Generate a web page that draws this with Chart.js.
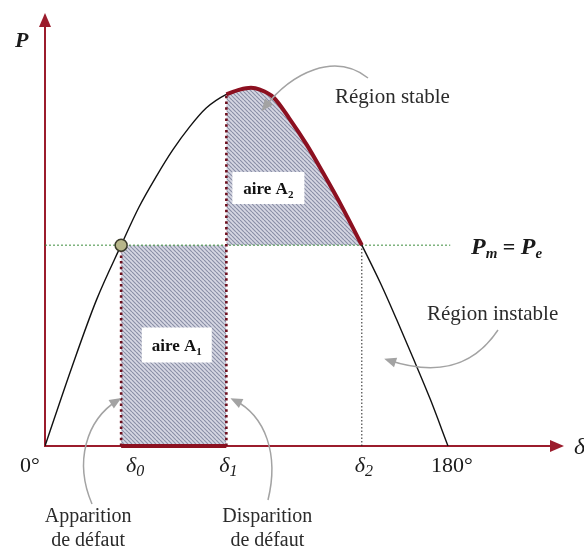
<!DOCTYPE html>
<html>
<head>
<meta charset="utf-8">
<script src="https://cdn.jsdelivr.net/npm/chart.js@4.4.0/dist/chart.umd.min.js"></script>
<style>
  html, body { margin: 0; padding: 0; background: #fff; }
  #wrap { width: 584px; height: 552px; }
</style>
</head>
<body>
<div id="wrap"><canvas id="chart" width="584" height="552"></canvas></div>
<script>
// P(delta) curve (angle in degrees, power normalised to Pmax)
const angles = [0, 12, 23, 34, 42, 50, 57, 64.5, 72, 81, 87, 92, 96, 102, 109, 117, 124, 132, 141.5, 150, 157, 164.5, 172, 180];
const power  = [0, 0.219, 0.406, 0.558, 0.664, 0.752, 0.822, 0.886, 0.939, 0.977, 0.990, 0.995, 0.990, 0.969, 0.911, 0.836, 0.761, 0.672, 0.558, 0.450, 0.352, 0.243, 0.131, 0];

// mechanical power and the three angles
const Pm = 0.558;
const delta0 = 34;
const delta1 = 81;
const delta2 = 141.5;

// x axis labels
const tickValues = [0, delta0, delta1, delta2, 180];
const tickLabels = ["0°", "δ0", "δ1", "δ2", "180°"];

const AXIS = "#9b1c2c";
const DARKRED = "#8c1020";
const SERIF = "'Liberation Serif', 'Times New Roman', serif";

const curve = angles.map((a, i) => ({ x: a, y: power[i] }));
const decel = curve.filter(p => p.x >= delta1 && p.x <= delta2);
const powerAt = (a) => power[angles.indexOf(a)];

// hatch pattern for the areas
function hatch() {
  const c = document.createElement("canvas");
  c.width = 4; c.height = 4;
  const g = c.getContext("2d");
  g.fillStyle = "#d6d7e3";
  g.fillRect(0, 0, 4, 4);
  g.strokeStyle = "#8a8fa6";
  g.lineWidth = 1.15;
  for (const k of [-4, 0, 4]) {
    g.beginPath(); g.moveTo(k, 0); g.lineTo(k + 4, 4); g.stroke();
  }
  return g.createPattern(c, "repeat");
}
const pattern = hatch();

function arrow(ctx, pts, color) {
  const [s, c1, c2, e] = pts;
  ctx.save();
  ctx.strokeStyle = color; ctx.fillStyle = color; ctx.lineWidth = 1.5;
  ctx.beginPath(); ctx.moveTo(s[0], s[1]);
  ctx.bezierCurveTo(c1[0], c1[1], c2[0], c2[1], e[0], e[1]);
  ctx.stroke();
  const ang = Math.atan2(e[1] - c2[1], e[0] - c2[0]);
  ctx.translate(e[0], e[1]); ctx.rotate(ang);
  ctx.beginPath(); ctx.moveTo(4, 0); ctx.lineTo(-8, -5); ctx.lineTo(-8, 5); ctx.closePath(); ctx.fill();
  ctx.restore();
}

// text made of pieces [text, font, dy]
function pieces(ctx, parts, x, y, align) {
  let w = 0;
  parts.forEach(p => { ctx.font = p[1]; w += ctx.measureText(p[0]).width; });
  let cx = align === "center" ? x - w / 2 : x;
  ctx.textAlign = "left";
  parts.forEach(p => {
    ctx.font = p[1];
    ctx.fillText(p[0], cx, y + (p[2] || 0));
    cx += ctx.measureText(p[0]).width;
  });
}

function box(ctx, label, sub, cx, cy, w, h) {
  ctx.fillStyle = "#fff";
  ctx.fillRect(cx - w / 2, cy - h / 2, w, h);
  ctx.fillStyle = "#111";
  ctx.textBaseline = "alphabetic";
  pieces(ctx, [[label, "bold 17px " + SERIF], [sub, "bold 11px " + SERIF, 4]], cx, cy + 6, "center");
}

const decor = {
  id: "decor",
  beforeDatasetsDraw(chart) {
    const { ctx, chartArea: a, scales: { x, y } } = chart;
    const x0 = x.getPixelForValue(0), y0 = y.getPixelForValue(0);
    ctx.save();
    ctx.strokeStyle = AXIS; ctx.fillStyle = AXIS; ctx.lineWidth = 2;
    ctx.beginPath();
    ctx.moveTo(x0, y0); ctx.lineTo(a.right - 8, y0);
    ctx.moveTo(x0, y0 + 1); ctx.lineTo(x0, a.top + 8);
    ctx.stroke();
    ctx.beginPath(); ctx.moveTo(a.right, y0); ctx.lineTo(a.right - 14, y0 - 6); ctx.lineTo(a.right - 14, y0 + 6); ctx.closePath(); ctx.fill();
    ctx.beginPath(); ctx.moveTo(x0, a.top); ctx.lineTo(x0 - 6, a.top + 14); ctx.lineTo(x0 + 6, a.top + 14); ctx.closePath(); ctx.fill();
    ctx.restore();
  },
  afterDraw(chart) {
    const { ctx, chartArea: a, scales: { x, y } } = chart;
    const px = v => x.getPixelForValue(v), py = v => y.getPixelForValue(v);
    const y0 = py(0);
    ctx.save();
    ctx.textBaseline = "alphabetic";
    ctx.fillStyle = "#1a1a1a";

    // axis letters
    pieces(ctx, [["P", "bold italic 22px " + SERIF]], 15, 47, "left");
    pieces(ctx, [["δ", "italic 24px " + SERIF]], a.right + 10, y0 + 8, "left");

    // tick labels under the angle axis
    const shift = [-15, 14, 2, 2, 4];
    tickValues.forEach((v, i) => {
      const t = tickLabels[i];
      const cx = px(v) + shift[i];
      if (t[0] === "δ") {
        pieces(ctx, [["δ", "italic 22px " + SERIF], [t.slice(1), "italic 16px " + SERIF, 4]], cx, y0 + 26, "center");
      } else {
        pieces(ctx, [[t, "22px " + SERIF]], cx, y0 + 26, "center");
      }
    });

    // Pm = Pe
    const b = py(Pm) + 9;
    pieces(ctx, [
      ["P", "bold italic 24px " + SERIF], ["m", "bold italic 15px " + SERIF, 4],
      [" = ", "bold 22px " + SERIF],
      ["P", "bold italic 24px " + SERIF], ["e", "bold italic 15px " + SERIF, 4]
    ], 471, b, "left");

    // area labels
    box(ctx, "aire A", "1", (px(delta0) + px(delta1)) / 2 + 3, 345, 70, 35);
    box(ctx, "aire A", "2", px(delta1) + 42, 188, 72, 32);

    // annotations
    ctx.fillStyle = "#2b2b2b";
    const f = "21px " + SERIF;
    pieces(ctx, [["Région stable", f]], 335, 103, "left");
    pieces(ctx, [["Région instable", f]], 427, 320, "left");
    const f2 = "20px " + SERIF;
    const ax = px(delta0) - 33, dx = px(delta1) + 41;
    pieces(ctx, [["Apparition", f2]], ax, 522, "center");
    pieces(ctx, [["de défaut", f2]], ax, 546, "center");
    pieces(ctx, [["Disparition", f2]], dx, 522, "center");
    pieces(ctx, [["de défaut", f2]], dx, 546, "center");

    const gray = "#a3a3a3";
    arrow(ctx, [[92, 504], [74, 462], [86, 420], [118, 400]], gray);
    arrow(ctx, [[268, 500], [279, 455], [266, 416], [234, 400]], gray);
    arrow(ctx, [[368, 78], [335, 52], [292, 72], [264, 108]], gray);
    arrow(ctx, [[498, 330], [470, 372], [430, 374], [388, 360]], gray);
    ctx.restore();
  }
};

new Chart(document.getElementById("chart"), {
  type: "line",
  data: {
    datasets: [
      { // area A1 (acceleration)
        data: [{ x: delta0, y: Pm }, { x: delta1, y: Pm }],
        fill: "origin", backgroundColor: pattern, borderWidth: 0, pointRadius: 0, order: 20
      },
      { // area A2 (deceleration)
        data: decel, fill: { value: Pm }, backgroundColor: pattern,
        borderWidth: 0, pointRadius: 0, cubicInterpolationMode: "monotone", order: 19
      },
      { // Pm line
        data: [{ x: 0, y: Pm }, { x: 181, y: Pm }],
        borderColor: "#3c8c3c", borderWidth: 1, borderDash: [2, 2], pointRadius: 0, order: 12
      },
      { // P(delta)
        data: curve, borderColor: "#111", borderWidth: 1.4, pointRadius: 0,
        cubicInterpolationMode: "monotone", order: 10
      },
      { // delta2 marker
        data: [{ x: delta2, y: 0 }, { x: delta2, y: Pm }],
        borderColor: "#222", borderWidth: 1, borderDash: [1.5, 2], pointRadius: 0, order: 8
      },
      { // delta0 marker
        data: [{ x: delta0, y: 0 }, { x: delta0, y: Pm }],
        borderColor: "#6e0f1e", borderWidth: 2.6, borderDash: [2.5, 3.2], pointRadius: 0, order: 7
      },
      { // delta1 marker
        data: [{ x: delta1, y: 0 }, { x: delta1, y: powerAt(delta1) }],
        borderColor: "#6e0f1e", borderWidth: 2.6, borderDash: [2.5, 3.2], pointRadius: 0, order: 6
      },
      { // stable part of the curve
        data: decel, borderColor: DARKRED, borderWidth: 4, pointRadius: 0,
        cubicInterpolationMode: "monotone", order: 4
      },
      { // fault duration on the axis
        data: [{ x: delta0, y: 0 }, { x: delta1, y: 0 }],
        borderColor: DARKRED, borderWidth: 4, pointRadius: 0, clip: false, order: 3
      },
      { // operating point
        data: [{ x: delta0, y: Pm }], showLine: false,
        pointRadius: 6, pointBackgroundColor: "#b7b68a", pointBorderColor: "#3a3a2a", pointBorderWidth: 1.5, order: 1
      }
    ]
  },
  options: {
    responsive: false,
    animation: false,
    layout: { padding: { left: 45, right: 20, top: 13, bottom: 106 } },
    scales: {
      x: { type: "linear", display: false, min: 0, max: 231.8 },
      y: { display: false, min: 0, max: 1.203 }
    },
    plugins: { legend: { display: false }, tooltip: { enabled: false } }
  },
  plugins: [decor]
});
</script>
</body>
</html>
